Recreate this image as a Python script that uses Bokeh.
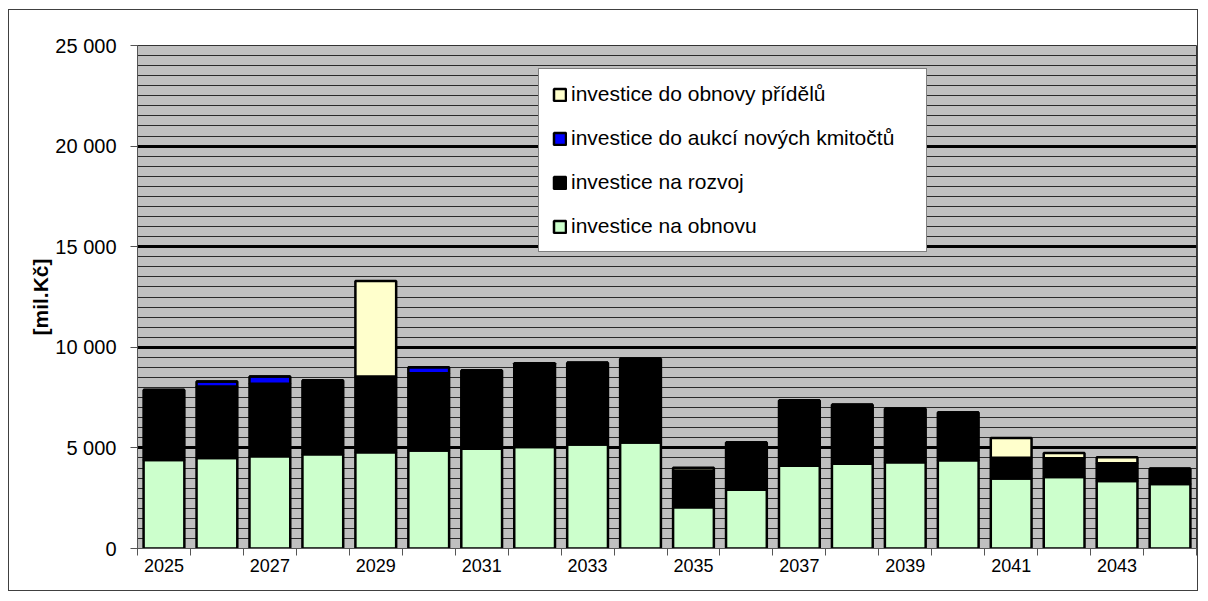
from bokeh.plotting import figure
from bokeh.models import ColumnDataSource, FixedTicker, Legend, LegendItem, Range1d
from bokeh.embed import file_html
from bokeh.resources import INLINE

# ---- data ----
years = list(range(2025, 2045))
obnova = [4400, 4500, 4590, 4680, 4780, 4870, 4960, 5050, 5170, 5270,
          2050, 2920, 4110, 4210, 4290, 4390, 3480, 3550, 3360, 3200]
rozvoj = [3480, 3550, 3600, 3670, 3770, 3840, 3890, 4080, 4060, 4160,
          1830, 2350, 3250, 2930, 2650, 2370, 1030, 940, 880, 760]
aukce = [0, 250, 360, 0, 0, 300, 0, 80, 0, 0,
         0, 0, 0, 0, 0, 0, 0, 0, 0, 0]
pridelu = [0, 0, 0, 0, 4740, 0, 0, 0, 0, 0,
           130, 0, 0, 0, 0, 0, 980, 260, 300, 0]

series_names = ["investice na obnovu", "investice na rozvoj",
                "investice do aukcí nových kmitočtů", "investice do obnovy přídělů"]
series_keys = ["obnova", "rozvoj", "aukce", "pridelu"]
series_colors = ["#CCFFCC", "#000000", "#0000FF", "#FFFFCC"]

y_major = list(range(0, 25001, 5000))
y_minor = list(range(0, 25001, 500))
x_label_ticks = years[::2]
x_boundaries = [y - 0.5 for y in years] + [years[-1] + 0.5]

FONT = "Liberation Sans"

source = ColumnDataSource(dict(year=years, obnova=obnova, rozvoj=rozvoj,
                               aukce=aukce, pridelu=pridelu))

p = figure(width=1190, height=582, output_backend="svg", toolbar_location=None,
           x_range=Range1d(years[0] - 0.5, years[-1] + 0.5),
           y_range=Range1d(y_major[0], y_major[-1]),
           min_border_left=128, min_border_right=3, min_border_top=35,
           min_border_bottom=44)
p.styles = {"border": "1px solid #404040", "margin-left": "8px", "margin-top": "9px"}
p.background_fill_color = "#C0C0C0"
p.border_fill_color = "white"
p.outline_line_color = "#333333"
p.outline_line_width = 1

renderers = p.vbar_stack(series_keys, x="year", width=0.77, source=source,
                         fill_color=series_colors, line_color="black",
                         line_width=2.5)

# grid
p.xgrid.visible = False
p.ygrid.ticker = FixedTicker(ticks=y_major[1:-1], minor_ticks=y_minor[1:-1])
p.ygrid.grid_line_color = "black"
p.ygrid.grid_line_width = 3
p.ygrid.minor_grid_line_color = "#2a2a2a"
p.ygrid.minor_grid_line_width = 1

# y axis
p.yaxis.ticker = FixedTicker(ticks=y_major)
p.yaxis.major_label_overrides = {t: f"{t:,}".replace(",", " ") for t in y_major}
p.yaxis.major_tick_out = 7
p.yaxis.major_tick_in = 0
p.yaxis.minor_tick_line_color = None
p.yaxis.major_tick_line_color = "#555555"
p.yaxis.axis_line_color = "#555555"
p.yaxis.major_label_text_font = FONT
p.yaxis.major_label_text_font_size = "20px"
p.yaxis.major_label_text_color = "black"
p.yaxis.major_label_standoff = 14
p.yaxis.axis_label = "[mil.Kč]"
p.yaxis.axis_label_text_font = FONT
p.yaxis.axis_label_text_font_size = "21px"
p.yaxis.axis_label_text_font_style = "bold"
p.yaxis.axis_label_text_color = "black"
p.yaxis.axis_label_standoff = 0

# x axis
p.xaxis.ticker = FixedTicker(ticks=x_label_ticks, minor_ticks=x_boundaries)
p.xaxis.major_tick_line_color = None
p.xaxis.major_tick_out = 0
p.xaxis.major_tick_in = 0
p.xaxis.minor_tick_out = 7
p.xaxis.minor_tick_in = 0
p.xaxis.minor_tick_line_color = "#555555"
p.xaxis.axis_line_color = "#555555"
p.xaxis.major_label_text_font = FONT
p.xaxis.major_label_text_font_size = "18px"
p.xaxis.major_label_text_color = "black"
p.xaxis.major_label_standoff = 3

# legend (reverse order)
items = [LegendItem(label=series_names[i], renderers=[renderers[i]])
         for i in reversed(range(len(series_keys)))]
legend = Legend(items=items, location=(401, 296), orientation="vertical",
                margin=0, padding=13, spacing=20,
                glyph_width=15, glyph_height=15, label_height=24,
                label_width=342, label_standoff=4,
                label_text_font=FONT, label_text_font_size="21px",
                label_text_color="black",
                border_line_color="black", border_line_width=1,
                background_fill_color="white", background_fill_alpha=1.0)
p.add_layout(legend, "center")

open("out.html", "w").write(file_html(p, INLINE))
